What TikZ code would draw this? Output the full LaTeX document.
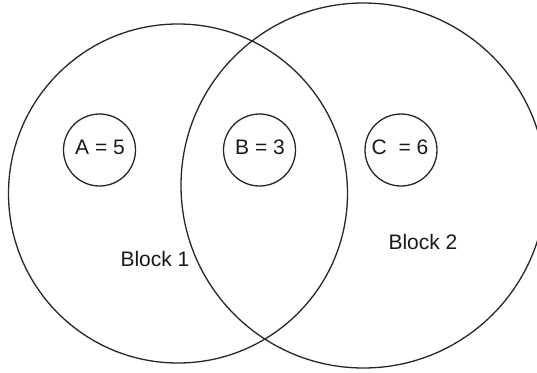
\documentclass[tikz,border=0pt]{standalone}
\usepackage{fontspec}
\setmainfont{Liberation Sans}
\begin{document}
\begin{tikzpicture}[x=1pt,y=-1pt,
  ring/.style={circle,draw=black!85,line width=1.3pt,inner sep=0pt},
  member/.style={ring,minimum size=72pt},
  lbl/.style={font=\fontsize{21}{25}\selectfont,text=black!90,inner sep=0pt}]
  \useasboundingbox (0,0) rectangle (537,372);
  % the two blocks
  \node[ring,minimum size=339pt] (block1) at (178,193.5) {};
  \node[ring,minimum size=365pt] (block2) at (363.5,185.5) {};
  % elements
  \node[member] (a) at (99.5,150) {};
  \node[member] (b) at (259.5,150) {};
  \node[member] (c) at (401,150) {};
  \node[lbl] (ta) at (100,147) {A = 5};
  \node[lbl] (tb) at (260,147) {B = 3};
  \node[lbl] (tc) at (400,147) {C\ \ = 6};
  % block labels
  \node[lbl] (l1) at (155,259) {Block 1};
  \node[lbl] (l2) at (423,242) {Block 2};
\end{tikzpicture}
\end{document}
